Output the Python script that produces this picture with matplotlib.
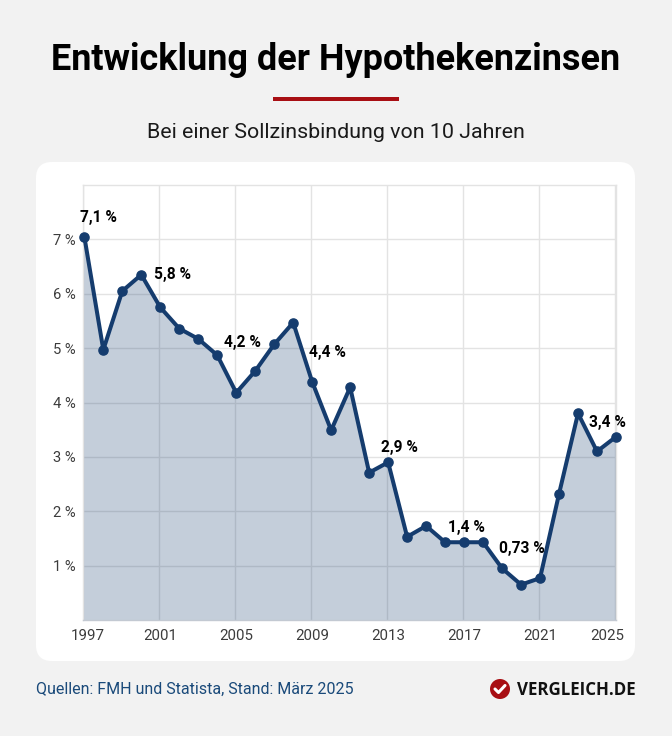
import matplotlib
matplotlib.use('Agg')
import matplotlib.pyplot as plt
from matplotlib.patches import FancyBboxPatch, Circle, Rectangle
import numpy as np

plt.rcParams['font.family'] = ['Roboto', 'DejaVu Sans']

years = np.arange(1997, 2026)
zinsen = [7.05, 4.97, 6.05, 6.35, 5.75, 5.36, 5.17, 4.87, 4.18, 4.58,
          5.07, 5.47, 4.38, 3.49, 4.28, 2.71, 2.90, 1.53, 1.73, 1.43,
          1.43, 1.43, 0.95, 0.65, 0.77, 2.32, 3.80, 3.10, 3.37]

x_ticks = [1997, 2001, 2005, 2009, 2013, 2017, 2021, 2025]
y_ticks = [1, 2, 3, 4, 5, 6, 7]

# label text, anchor year, offset from the point in pixels
labels = [('7,1 %', 1997, 14, 19), ('5,8 %', 2000, 31, 0), ('4,2 %', 2005, 6, 50),
          ('4,4 %', 2009, 15, 29), ('2,9 %', 2013, 11, 15), ('1,4 %', 2017, 2, 15),
          ('0,73 %', 2020, 1, 36), ('3,4 %', 2025, -9, 14)]

W, H = 672, 736
navy = '#153c6e'
grid_col = '#e3e3e3'
px = 0.72  # pixels to points at dpi 100
grid_shift = 0.07  # the grid sits a little left of the points

fig = plt.figure(figsize=(W / 100, H / 100), dpi=100, facecolor='#f2f2f2')

# background layer in pixel coordinates
bg = fig.add_axes([0, 0, 1, 1])
bg.set_xlim(0, W)
bg.set_ylim(H, 0)
bg.axis('off')
bg.add_patch(FancyBboxPatch((36, 162), 599, 499, boxstyle='round,pad=0,rounding_size=16',
                            fc='white', ec='none'))
bg.add_patch(Rectangle((273, 97), 126, 4, fc='#a80f14', ec='none'))
bg.add_patch(Circle((500, 689), 10, fc='#a80f14', ec='none'))
bg.plot([495, 498.5, 505], [689, 692.5, 685.5], color='white', lw=2.2, solid_capstyle='round')

bg.text(336, 60, 'Entwicklung der Hypothekenzinsen', ha='center', va='center',
        fontsize=25.9, fontweight='bold', color='black')
bg.text(336, 132, 'Bei einer Sollzinsbindung von 10 Jahren', ha='center', va='center',
        fontsize=15.4, color='#1a1a1a')
bg.text(36, 689, 'Quellen: FMH und Statista, Stand: März 2025', ha='left', va='center',
        fontsize=11.5, color='#1a4a7a')
bg.text(517, 690, 'VERGLEICH.DE', ha='left', va='center', fontsize=12.2,
        fontweight='bold', color='#111111', family=['Open Sans', 'DejaVu Sans'])

# chart
ax = fig.add_axes([83 / W, 1 - 620 / H, 533 / W, 435 / H])
ax.patch.set_alpha(0)
ax.set_xlim(1996.93, 2025)
ax.set_ylim(0, 8)

for s in ['top', 'right', 'left']:
    ax.spines[s].set_color(grid_col)
    ax.spines[s].set_linewidth(1.0)
ax.spines['bottom'].set_color('#c3c9d2')
ax.spines['bottom'].set_linewidth(1.0)

ax.set_xticks(np.array(x_ticks) - grid_shift)
ax.set_xticklabels([])
ax.set_yticks(y_ticks)
ax.set_yticklabels(['%d %%' % v for v in y_ticks], fontsize=10.6, color='#3c3c3c')
ax.tick_params(length=0, pad=5)
ax.grid(True, color=grid_col, lw=1.0)
ax.set_axisbelow(True)

# fill runs out to the left edge of the axes
ax.fill_between(np.r_[ax.get_xlim()[0], years], np.r_[zinsen[0], zinsen], 0,
                color=navy, alpha=0.25, lw=0, zorder=2)
ax.plot(years, zinsen, color=navy, lw=2.9, marker='o', ms=6.6, clip_on=False,
        solid_joinstyle='round', zorder=3)

for yr in x_ticks:
    # first and last year labels are pushed inwards a bit
    dx = {1997: 3, 2025: -9}.get(yr, 0)
    ax.annotate(str(yr), (yr, 0), xytext=(dx * px, -16 * px), textcoords='offset points',
                ha='center', va='center', fontsize=10.8, color='#3c3c3c', annotation_clip=False)

for txt, yr, dx, dy in labels:
    val = zinsen[yr - 1997]
    ax.annotate(txt, (yr, val), xytext=(dx * px, dy * px), textcoords='offset points',
                ha='center', va='center', fontsize=11.2, fontweight='bold', color='black',
                annotation_clip=False, zorder=5)

fig.savefig('out.png', dpi=100, facecolor=fig.get_facecolor())
